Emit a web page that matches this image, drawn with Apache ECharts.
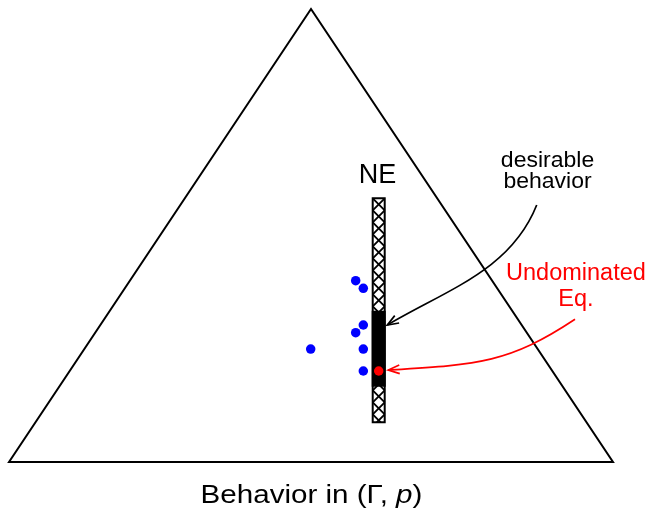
<!DOCTYPE html>
<html>
<head>
<meta charset="utf-8">
<script src="https://cdn.jsdelivr.net/npm/echarts@6/dist/echarts.min.js"></script>
<style>
html,body{margin:0;padding:0;background:#ffffff;}
#chart{width:650px;height:514px;}
</style>
</head>
<body>
<div id="chart"></div>
<script>
// ---- data (in simplex-plot units: x across the base 0..1, y from base 0 to apex 1) ----
const TRIANGLE_X = [0, 0.5, 1];
const TRIANGLE_Y = [0, 1, 0];

const NE_X = 0.6121;
const NE_Y = [0.0876, 0.5821];          // Nash equilibrium interval
const DESIRABLE_Y = [0.1684, 0.3318];   // desirable behaviour sub-interval

const BLUE_X = [0.5740, 0.5866, 0.5866, 0.5740, 0.4995, 0.5866, 0.5866];
const BLUE_Y = [0.4002, 0.3834, 0.3024, 0.2854, 0.2494, 0.2494, 0.2009];

const RED_X = [0.6121];
const RED_Y = [0.2009];

const LABEL_TEXT = ['NE', 'desirable\nbehavior', 'Undominated\nEq.', 'Behavior in (Γ, p)'];
const LABEL_X = [0.6101, 0.8916, 0.9386, 0.5008];
const LABEL_Y = [0.6318, 0.6409, 0.3865, -0.0745];

// cubic arrows: start, control1, control2, tip
const ARROW_DESIRABLE = [[0.8737, 0.5673], [0.8308, 0.4236], [0.7262, 0.3810], [0.6263, 0.3024]];
const ARROW_UNDOMINATED = [[0.9371, 0.3150], [0.8272, 0.2179], [0.7767, 0.2150], [0.6280, 0.2031]];

// ---- styles ----
const FONT = '"Liberation Sans", Arial, Helvetica, sans-serif';
const LABEL_STYLE = [
  {fontSize: 27, color: '#000000', lineHeight: 27, scaleX: 1.0},
  {fontSize: 21.5, color: '#000000', lineHeight: 20.3, scaleX: 1.07},
  {fontSize: 23.5, color: '#ff0000', lineHeight: 26, scaleX: 1.0},
  {fontSize: 25.5, color: '#000000', lineHeight: 25.5, scaleX: 1.16}
];
const ARROW_COLORS = ['#000000', '#ff0000'];

const chart = echarts.init(document.getElementById('chart'));

const triangleData = TRIANGLE_X.map((x, i) => [x, TRIANGLE_Y[i]]);
const blueData = BLUE_X.map((x, i) => [x, BLUE_Y[i]]);
const redData = RED_X.map((x, i) => [x, RED_Y[i]]);
const labelData = LABEL_X.map((x, i) => [x, LABEL_Y[i], i]);
const arrowData = [ARROW_DESIRABLE, ARROW_UNDOMINATED].map((a, i) => [].concat(...a, i));

const BAR_W = 12; // px, stroke-centre width of the NE bar

function renderTriangle(params, api) {
  if (params.dataIndex !== 0) return null;
  const pts = triangleData.map(p => api.coord(p));
  return {
    type: 'polygon',
    shape: {points: pts},
    style: {fill: 'none', stroke: '#000', lineWidth: 2, lineJoin: 'miter'}
  };
}

function renderBar(params, api) {
  const x = api.value(0);
  const top = api.coord([x, NE_Y[1]]);
  const bot = api.coord([x, NE_Y[0]]);
  const dTop = api.coord([x, DESIRABLE_Y[1]]);
  const dBot = api.coord([x, DESIRABLE_Y[0]]);
  const L = top[0] - BAR_W / 2, R = top[0] + BAR_W / 2;
  const T = top[1], B = bot[1];
  const h = BAR_W;
  const children = [];
  children.push({type: 'rect', shape: {x: L, y: T, width: R - L, height: B - T},
    style: {fill: '#fff', stroke: 'none'}});
  // cross hatch
  for (let y0 = T; y0 < B; y0 += h) {
    let y1 = y0 + h, frac = 1;
    if (y1 > B) { frac = (B - y0) / h; y1 = B; }
    children.push({type: 'line', shape: {x1: L, y1: y0, x2: L + (R - L) * frac, y2: y1},
      style: {stroke: '#000', lineWidth: 1.9}});
    children.push({type: 'line', shape: {x1: R, y1: y0, x2: R - (R - L) * frac, y2: y1},
      style: {stroke: '#000', lineWidth: 1.9}});
  }
  children.push({type: 'rect', shape: {x: L, y: T, width: R - L, height: B - T},
    style: {fill: 'none', stroke: '#000', lineWidth: 2}});
  // desirable behaviour (solid)
  children.push({type: 'rect', shape: {x: L, y: dTop[1], width: R - L, height: dBot[1] - dTop[1]},
    style: {fill: '#000', stroke: '#000', lineWidth: 2}});
  return {type: 'group', children: children};
}

function renderArrow(params, api) {
  const p = [0, 1, 2, 3].map(k => api.coord([api.value(2 * k), api.value(2 * k + 1)]));
  const color = ARROW_COLORS[api.value(8)];
  const dx = p[3][0] - p[2][0], dy = p[3][1] - p[2][1];
  const len = Math.sqrt(dx * dx + dy * dy);
  const ux = dx / len, uy = dy / len;
  const HL = 12, ang = 21 * Math.PI / 180;
  const wing = s => {
    const c = Math.cos(s * ang), sn = Math.sin(s * ang);
    const rx = ux * c - uy * sn, ry = ux * sn + uy * c;
    return [p[3][0] - HL * rx, p[3][1] - HL * ry];
  };
  return {
    type: 'group',
    children: [
      {type: 'bezierCurve', shape: {x1: p[0][0], y1: p[0][1], cpx1: p[1][0], cpy1: p[1][1],
        cpx2: p[2][0], cpy2: p[2][1], x2: p[3][0], y2: p[3][1]},
        style: {stroke: color, fill: 'none', lineWidth: 1.7}},
      {type: 'polyline', shape: {points: [wing(1), p[3], wing(-1)]},
        style: {stroke: color, fill: 'none', lineWidth: 1.7}}
    ]
  };
}

function renderLabel(params, api) {
  const pt = api.coord([api.value(0), api.value(1)]);
  const i = api.value(2);
  const st = LABEL_STYLE[i];
  const style = {
    text: LABEL_TEXT[i], fill: st.color, fontSize: st.fontSize, fontFamily: FONT,
    align: 'center', verticalAlign: 'middle', lineHeight: st.lineHeight
  };
  if (i === 3) {
    style.text = '{n|Behavior in (Γ, }{i|p}{n|)}';
    style.rich = {
      n: {fontSize: st.fontSize, fontFamily: FONT, fill: st.color, lineHeight: st.lineHeight},
      i: {fontSize: st.fontSize, fontFamily: FONT, fill: st.color, fontStyle: 'italic', lineHeight: st.lineHeight}
    };
  }
  return {type: 'text', x: pt[0], y: pt[1], scaleX: st.scaleX, scaleY: 1, style: style};
}

chart.setOption({
  animation: false,
  backgroundColor: '#ffffff',
  grid: {left: 9, top: 9, width: 604, height: 453},
  xAxis: {type: 'value', min: 0, max: 1, show: false},
  yAxis: {type: 'value', min: 0, max: 1, show: false},
  series: [
    {type: 'custom', name: 'simplex', renderItem: renderTriangle, data: triangleData, clip: false, z: 1, silent: true},
    {type: 'custom', name: 'NE', renderItem: renderBar, data: [[NE_X, NE_Y[0], NE_Y[1]]], clip: false, z: 2, silent: true},
    {type: 'custom', name: 'arrows', renderItem: renderArrow, data: arrowData, clip: false, z: 3, silent: true},
    {type: 'scatter', name: 'behaviour', data: blueData, symbol: 'circle', symbolSize: 9.5,
      itemStyle: {color: '#0000ff', opacity: 1}, z: 4, silent: true},
    {type: 'scatter', name: 'undominated', data: redData, symbol: 'circle', symbolSize: 9.5,
      itemStyle: {color: '#ff0000', opacity: 1}, z: 5, silent: true},
    {type: 'custom', name: 'labels', renderItem: renderLabel, data: labelData, clip: false, z: 6, silent: true}
  ]
});
</script>
</body>
</html>
